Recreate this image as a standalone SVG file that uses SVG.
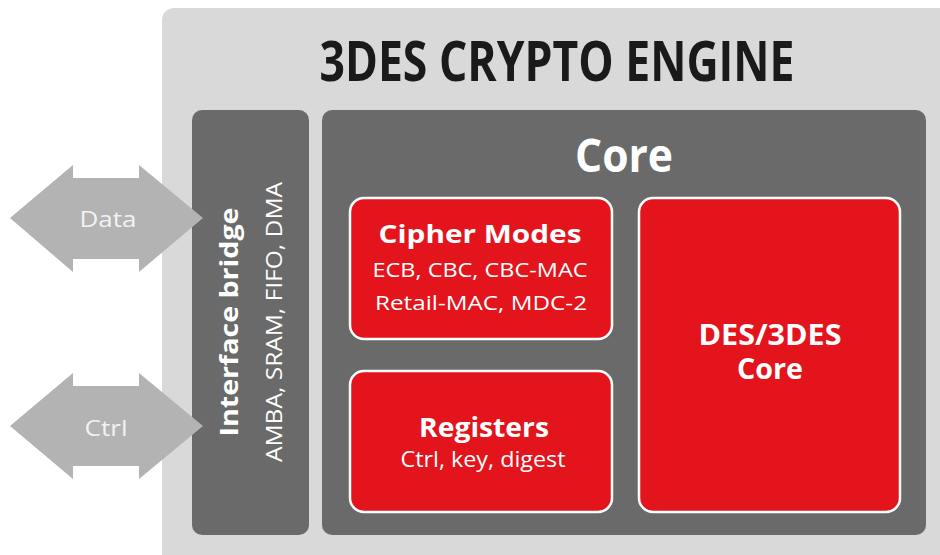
<svg xmlns="http://www.w3.org/2000/svg" width="940" height="555" viewBox="0 0 940 555">
<style>
text{font-family:"Open Sans","Noto Sans","Liberation Sans",sans-serif;text-anchor:middle}
.b{font-weight:bold}
.w{fill:#ffffff}
.red{fill:#e3141b;stroke:#ffffff;stroke-width:2.5}
.dark{fill:#6a6a6a}
.arrow{fill:#b3b3b3}
</style>
<rect width="940" height="555" fill="#ffffff"/>
<g id="engine">
<rect x="162" y="8" width="800" height="570" rx="12" fill="#d9d9d9"/>
<text x="557" y="81" class="b" font-size="56" fill="#1a1a1a" textLength="475" lengthAdjust="spacingAndGlyphs">3DES CRYPTO ENGINE</text>
</g>
<g id="bridge">
<rect x="192" y="110" width="117" height="425" rx="10" class="dark"/>
<text transform="translate(238,322) rotate(-90)" class="b w" font-size="25" textLength="229" lengthAdjust="spacingAndGlyphs">Interface bridge</text>
<text transform="translate(282,322) rotate(-90)" class="w" font-size="21" textLength="280" lengthAdjust="spacingAndGlyphs">AMBA, SRAM, FIFO, DMA</text>
</g>
<g id="core">
<rect x="322" y="110" width="604" height="425" rx="10" class="dark"/>
<text x="624" y="172" class="b w" font-size="47" textLength="98" lengthAdjust="spacingAndGlyphs">Core</text>
</g>
<g id="cipher-modes">
<rect x="350" y="198" width="262" height="141" rx="14" class="red"/>
<text x="480" y="243" class="b w" font-size="25" textLength="203" lengthAdjust="spacingAndGlyphs">Cipher Modes</text>
<text x="480" y="277" class="w" font-size="20" textLength="215" lengthAdjust="spacingAndGlyphs">ECB, CBC, CBC-MAC</text>
<text x="481" y="310" class="w" font-size="20" textLength="212" lengthAdjust="spacingAndGlyphs">Retail-MAC, MDC-2</text>
</g>
<g id="registers">
<rect x="350" y="371" width="262" height="141" rx="14" class="red"/>
<text x="484" y="437" class="b w" font-size="26" textLength="130" lengthAdjust="spacingAndGlyphs">Registers</text>
<text x="483" y="467" class="w" font-size="21" textLength="165" lengthAdjust="spacingAndGlyphs">Ctrl, key, digest</text>
</g>
<g id="des-core">
<rect x="639" y="198" width="261" height="314" rx="14" class="red"/>
<text x="770" y="345" class="b w" font-size="28" textLength="143" lengthAdjust="spacingAndGlyphs">DES/3DES</text>
<text x="770" y="379" class="b w" font-size="28" textLength="66" lengthAdjust="spacingAndGlyphs">Core</text>
</g>
<g id="connectors">
<g id="data-arrow">
<polygon class="arrow" points="10,218 73,165 73,178 139,178 139,165 203,218 139,272 139,259 73,259 73,272"/>
<text x="108" y="227" font-size="22" fill="#f2f2f2" textLength="57" lengthAdjust="spacingAndGlyphs">Data</text>
</g>
<g id="ctrl-arrow">
<polygon class="arrow" points="10,426 73,373 73,386 139,386 139,373 203,426 139,479 139,466 73,466 73,479"/>
<text x="106" y="436" font-size="22" fill="#f2f2f2" textLength="43" lengthAdjust="spacingAndGlyphs">Ctrl</text>
</g>
</g>
</svg>
